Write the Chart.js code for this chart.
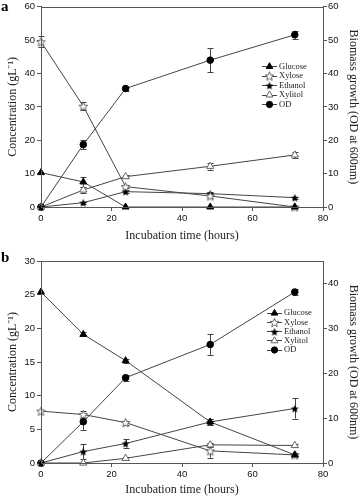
<!DOCTYPE html>
<html>
<head>
<meta charset="utf-8">
<script src="https://cdn.jsdelivr.net/npm/chart.js@4.4.1/dist/chart.umd.min.js"></script>
<style>
  html, body { margin: 0; padding: 0; background: #fff; }
  #wrap { position: relative; width: 359px; height: 499px; overflow: hidden; }
  canvas { position: absolute; left: 0; }
  .tag { position: absolute; font: bold 15px "Liberation Serif", "Times New Roman", serif; color: #000; line-height: 15px; }
</style>
</head>
<body>
<div id="wrap">
  <canvas id="chart-a" width="359" height="250" style="top:0"></canvas>
  <canvas id="chart-b" width="359" height="249" style="top:250px"></canvas>
  <div class="tag" style="left:1px;top:-1px">a</div>
  <div class="tag" style="left:1px;top:250px">b</div>
</div>
<script>
// sampling times (hours)
const hours = [0, 12, 24, 48, 72];
const seriesNames = ["Glucose", "Xylose", "Ethanol", "Xylitol", "OD"];
const hourTicks = [0, 20, 40, 60, 80];

// panel a
const concTicksA = [0, 10, 20, 30, 40, 50, 60];
const odTicksA = [0, 10, 20, 30, 40, 50, 60];
const glucoseA = [10.3, 7.5, 0, 0, 0];
const xyloseA = [49.5, 30.2, 6.1, 3.3, 0];
const ethanolA = [0, 1.3, 4.6, 4.0, 2.8];
const xylitolA = [0, 5.1, 9.1, 12.2, 15.6];
const odA = [0, 18.7, 35.5, 44.0, 51.6];
const glucoseErrA = [0, 1.4, 0, 0, 0];
const xyloseErrA = [1.7, 1.2, 0.5, 0.5, 0];
const ethanolErrA = [0, 0.3, 0.4, 0.4, 0.3];
const xylitolErrA = [0, 0.8, 0.5, 1.0, 1.0];
const odErrA = [0, 1.4, 0.6, 3.6, 1.2];

// panel b
const concTicksB = [0, 5, 10, 15, 20, 25, 30];
const odTicksB = [0, 10, 20, 30, 40];
const odMaxB = 45;
const glucoseB = [25.4, 19.1, 15.2, 6.1, 1.2];
const xyloseB = [7.7, 7.2, 6.0, 1.8, 1.2];
const ethanolB = [0, 1.7, 2.9, 6.1, 8.1];
const xylitolB = [0, 0, 0.7, 2.7, 2.6];
const odB = [0, 9.2, 19.0, 26.4, 38.1];
const glucoseErrB = [0, 0.3, 0.3, 0.4, 0.3];
const xyloseErrB = [0, 0.5, 0.3, 1.0, 0.2];
const ethanolErrB = [0, 1.1, 0.6, 0.4, 1.5];
const xylitolErrB = [0, 0, 0.2, 0.3, 0.2];
const odErrB = [0, 1.8, 0.7, 2.3, 0.6];

const serif = "'Liberation Serif', 'Times New Roman', serif";
const sans = "'Liberation Sans', Arial, sans-serif";
const lineColor = "#444";

// five point star marker as an image
function makeStar(r, fill, stroke) {
  const size = Math.ceil(r * 2 + 3);
  const c = document.createElement("canvas");
  c.width = c.height = size;
  const g = c.getContext("2d");
  const cx = size / 2, cy = size / 2 + 0.5;
  g.beginPath();
  for (let k = 0; k < 10; k++) {
    const rad = k % 2 ? r * 0.45 : r;
    const a = -Math.PI / 2 + (k * Math.PI) / 5;
    g.lineTo(cx + rad * Math.cos(a), cy + rad * Math.sin(a));
  }
  g.closePath();
  g.fillStyle = fill;
  g.fill();
  if (stroke) {
    g.strokeStyle = stroke;
    g.lineWidth = 0.9;
    g.stroke();
  }
  return c;
}
const hollowStar = makeStar(4.6, "#fff", "#555");
const solidStar = makeStar(4.2, "#000");

const markerStyles = [
  { pointStyle: "triangle", pointRadius: 4, pointBackgroundColor: "#000", pointBorderColor: "#000" },
  { pointStyle: hollowStar, pointRadius: 4 },
  { pointStyle: solidStar, pointRadius: 4 },
  { pointStyle: "triangle", pointRadius: 4.2, pointBackgroundColor: "#fff", pointBorderColor: "#666" },
  { pointStyle: "circle", pointRadius: 3.3, pointBackgroundColor: "#000", pointBorderColor: "#000" },
];

function buildDatasets(values, errors) {
  return values.map((vals, i) => ({
    label: seriesNames[i],
    data: hours.map((h, j) => ({ x: h, y: vals[j] })),
    errors: errors[i],
    yAxisID: i === 4 ? "y1" : "y",
    borderColor: lineColor,
    borderWidth: 1,
    pointBorderWidth: 1,
    tension: 0,
    clip: false,
    ...markerStyles[i],
  }));
}

// vertical error bars with caps, drawn through the scales
const errorBars = {
  id: "errorBars",
  beforeDatasetsDraw(chart) {
    const ctx = chart.ctx;
    ctx.save();
    ctx.strokeStyle = "#444";
    ctx.lineWidth = 1;
    chart.data.datasets.forEach((ds, i) => {
      const meta = chart.getDatasetMeta(i);
      const yScale = chart.scales[ds.yAxisID];
      meta.data.forEach((pt, j) => {
        const e = ds.errors[j];
        if (!e) return;
        const v = ds.data[j].y;
        const top = yScale.getPixelForValue(v + e);
        const bot = yScale.getPixelForValue(v - e);
        const x = Math.round(pt.x) + 0.5;
        ctx.beginPath();
        ctx.moveTo(x, top);
        ctx.lineTo(x, bot);
        ctx.moveTo(x - 3, Math.round(top) + 0.5);
        ctx.lineTo(x + 3, Math.round(top) + 0.5);
        ctx.moveTo(x - 3, Math.round(bot) + 0.5);
        ctx.lineTo(x + 3, Math.round(bot) + 0.5);
        ctx.stroke();
      });
    });
    ctx.restore();
  },
};

// box around plot area
const frame = {
  id: "frame",
  afterDraw(chart) {
    const { left, top, right, bottom } = chart.chartArea;
    const ctx = chart.ctx;
    ctx.save();
    ctx.strokeStyle = "#555";
    ctx.lineWidth = 1;
    ctx.strokeRect(Math.round(left) + 0.5, Math.round(top) + 0.5, Math.round(right - left), Math.round(bottom - top));
    ctx.restore();
  },
};

// legend key: short line with marker, then name
const keyLegend = {
  id: "keyLegend",
  afterDraw(chart, args, opts) {
    const ctx = chart.ctx;
    ctx.save();
    chart.data.datasets.forEach((ds, i) => {
      const y = opts.y + i * opts.gap;
      ctx.strokeStyle = lineColor;
      ctx.lineWidth = 1;
      ctx.beginPath();
      ctx.moveTo(opts.x, Math.round(y) + 0.5);
      ctx.lineTo(opts.x + opts.len, Math.round(y) + 0.5);
      ctx.stroke();
      ctx.fillStyle = ds.pointBackgroundColor || "#000";
      ctx.strokeStyle = ds.pointBorderColor || "#000";
      Chart.helpers.drawPoint(ctx, { pointStyle: ds.pointStyle, radius: ds.pointRadius * 0.95, borderWidth: 1, rotation: 0 }, opts.x + opts.len / 2, y + 0.5);
      ctx.fillStyle = "#222";
      ctx.font = "8.5px " + serif;
      ctx.textBaseline = "middle";
      ctx.fillText(ds.label, opts.x + opts.len + 2, y + 0.5);
    });
    ctx.restore();
  },
};

function makeOptions(p) {
  const axisGrid = { drawOnChartArea: false, drawTicks: true, tickLength: 4, color: "#555" };
  const axisBorder = { display: true, color: "#555", width: 1 };
  const tickFont = { family: sans, size: 9.5, lineHeight: 1 };
  const titleFont = { family: serif, size: 12, lineHeight: 1 };
  return {
    responsive: false,
    animation: false,
    layout: { padding: { top: p.padTop, left: 0, right: 0, bottom: 0 } },
    plugins: {
      legend: { display: false },
      tooltip: { enabled: false },
      keyLegend: p.legend,
    },
    scales: {
      x: {
        type: "linear",
        min: hourTicks[0],
        max: hourTicks[hourTicks.length - 1],
        ticks: { stepSize: 20, color: "#111", font: tickFont, padding: 3, maxRotation: 0 },
        grid: axisGrid,
        border: axisBorder,
        title: { display: true, text: "Incubation time (hours)", color: "#222", font: titleFont, padding: { top: 0, bottom: p.xTitlePad } },
        afterFit: (s) => { s.height = p.xHeight; },
      },
      y: {
        position: "left",
        min: p.concTicks[0],
        max: p.concTicks[p.concTicks.length - 1],
        ticks: { stepSize: p.concTicks[1] - p.concTicks[0], color: "#111", font: tickFont, padding: 2 },
        grid: axisGrid,
        border: axisBorder,
        title: { display: true, text: "Concentration (gL⁻¹)", color: "#222", font: titleFont, padding: { top: 7, bottom: 0 } },
        afterFit: (s) => { s.width = 41; },
      },
      y1: {
        position: "right",
        min: 0,
        max: p.odMax,
        ticks: { stepSize: 10, color: "#111", font: tickFont, padding: 1 },
        afterBuildTicks: (s) => { s.ticks = s.ticks.filter((t) => p.odTicks.includes(t.value)); },
        grid: axisGrid,
        border: axisBorder,
        title: { display: true, text: "Biomass growth (OD at 600nm)", color: "#222", font: titleFont, padding: { top: 0, bottom: 0 } },
        afterFit: (s) => { s.width = 36; },
      },
    },
  };
}

new Chart(document.getElementById("chart-a"), {
  type: "line",
  data: {
    datasets: buildDatasets(
      [glucoseA, xyloseA, ethanolA, xylitolA, odA],
      [glucoseErrA, xyloseErrA, ethanolErrA, xylitolErrA, odErrA]
    ),
  },
  options: makeOptions({
    padTop: 5, xHeight: 43, xTitlePad: 8,
    concTicks: concTicksA, odTicks: odTicksA, odMax: odTicksA[odTicksA.length - 1],
    legend: { x: 262, y: 66, gap: 9.5, len: 15 },
  }),
  plugins: [errorBars, frame, keyLegend],
});

new Chart(document.getElementById("chart-b"), {
  type: "line",
  data: {
    datasets: buildDatasets(
      [glucoseB, xyloseB, ethanolB, xylitolB, odB],
      [glucoseErrB, xyloseErrB, ethanolErrB, xylitolErrB, odErrB]
    ),
  },
  options: makeOptions({
    padTop: 11, xHeight: 36, xTitlePad: 3,
    concTicks: concTicksB, odTicks: odTicksB, odMax: odMaxB,
    legend: { x: 267, y: 62.7, gap: 9.2, len: 15 },
  }),
  plugins: [errorBars, frame, keyLegend],
});
</script>
</body>
</html>
